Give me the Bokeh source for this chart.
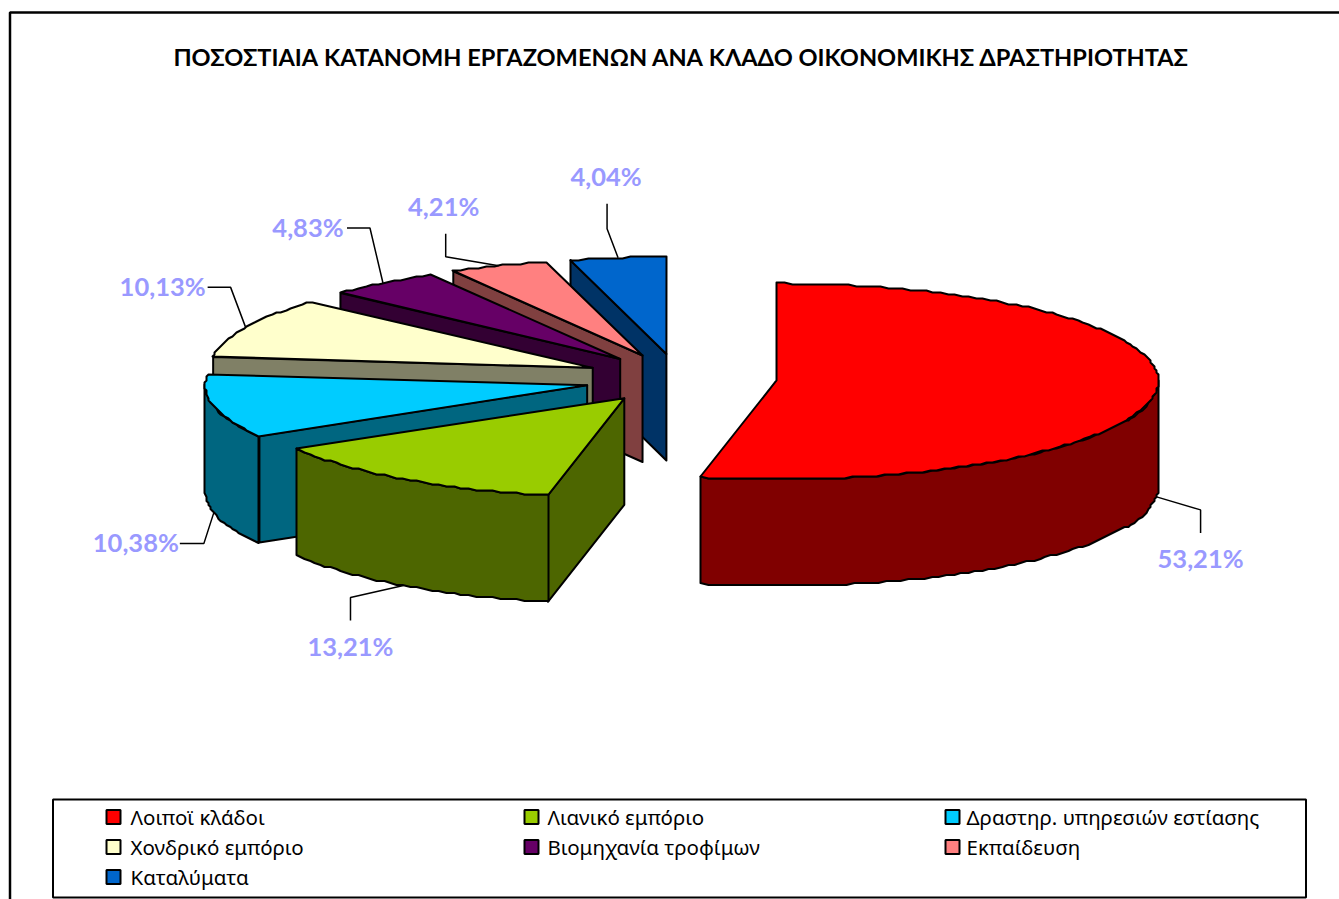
import numpy as np
from bokeh.plotting import figure
from bokeh.models import ColumnDataSource, Range1d
from bokeh.core.properties import value
from bokeh.embed import file_html
from bokeh.resources import INLINE

TITLE = "ΠΟΣΟΣΤΙΑΙΑ ΚΑΤΑΝΟΜΗ ΕΡΓΑΖΟΜΕΝΩΝ ΑΝΑ ΚΛΑΔΟ ΟΙΚΟΝΟΜΙΚΗΣ ΔΡΑΣΤΗΡΙΟΤΗΤΑΣ"
categories = ["Λοιποϊ κλάδοι", "Λιανικό εμπόριο", "Δραστηρ. υπηρεσιών εστίασης",
              "Χονδρικό εμπόριο", "Βιομηχανία τροφίμων", "Εκπαίδευση", "Καταλύματα"]
shares = [53.21, 13.21, 10.38, 10.13, 4.83, 4.21, 4.04]
top_colors = ["#FF0000", "#99CC00", "#00CCFF", "#FFFFCC", "#660066", "#FF8080", "#0066CC"]
side_colors = ["#800000", "#4D6600", "#006680", "#808066", "#330033", "#804040", "#003366"]

# layout (in pixels of the 1339x899 window)
W, H = 1339, 899
CX, CY = 680, 377.5
RX, RY_BACK, RY_FRONT = 382, 97, 99
DEPTH = 106.5
EXPLODE = 0.25
STEP = 2
DRAW_ORDER = [6, 5, 4, 3, 2, 1, 0]
NUDGE = [(1, 0), (-1, 0.5), (0, 2), (-1, 0), (-1, 0), (-2, 0), (-2, 0)]
ELBOWS = [[(44, 13), (44, 36)], [(-53, 12), (-53, 35)], [(-10, 31), (-34, 31)],
          [(-15, -40), (-38, -40)], [(-13, -55), (-36, -55)], [(-53, -9), (-53, -32)],
          [(-11, -29), (-11, -54)]]
LABEL_OFF = [(0, 25.5), (0, 25.5), (-44, -1.5), (-45, -1.5), (-39, -1), (-2, -27.5), (-1, -27.5)]

p = figure(width=W, height=H, output_backend="svg", toolbar_location=None,
           x_range=Range1d(0, W), y_range=Range1d(H, 0),
           min_border=0, outline_line_color=None, background_fill_color="white",
           border_fill_color="white")
p.xaxis.visible = False
p.yaxis.visible = False
p.xgrid.visible = False
p.ygrid.visible = False

# frame
p.line([9.5, 9.5, W], [H, 12, 12], line_color="black", line_width=2.5)

p.text([681], [56], text=[TITLE], text_font=value("Lato"), text_font_style="bold",
       text_font_size="23.6px", text_align="center", text_baseline="middle", text_color="black")

fr = np.array(shares) / sum(shares) * 360
starts = np.concatenate([[0], np.cumsum(fr)[:-1]])
ends = starts + fr


def pt(cx, cy, a):
    r = np.radians(a)
    c = np.cos(r)
    return cx + RX * np.sin(r), cy - np.where(c < 0, RY_FRONT, RY_BACK) * c


def jag(v):
    # the reference outline is stepped, as if drawn on a coarse grid
    return np.round(v / STEP) * STEP


for i in DRAW_ORDER:
    a0, a1 = starts[i], ends[i]
    mid = (a0 + a1) / 2
    cx = CX + EXPLODE * RX * np.sin(np.radians(mid)) + NUDGE[i][0]
    cy = CY - EXPLODE * RY_BACK * np.cos(np.radians(mid)) + NUDGE[i][1]
    if np.sin(np.radians(a0)) < -1e-6:
        ex, ey = pt(cx, cy, a0)
        p.patch([cx, ex, ex, cx], [cy, ey, ey + DEPTH, cy + DEPTH], fill_color=side_colors[i],
                line_color="black", line_width=2, line_join="round")
    w0, w1 = max(a0, 90), min(a1, 270)
    if w1 > w0:
        aa = np.linspace(w0, w1, max(4, int((w1 - w0) / 1.2)))
        xs, ys = pt(cx, cy, aa)
        xs, ys = jag(xs), jag(ys)
        p.patch(np.r_[xs, xs[::-1]], np.r_[ys, ys[::-1] + DEPTH], fill_color=side_colors[i],
                line_color="black", line_width=2, line_join="round")
    aa = np.linspace(a0, a1, max(4, int(fr[i] / 1.2)))
    xs, ys = pt(cx, cy, aa)
    xs, ys = jag(xs), jag(ys)
    p.patch(np.r_[cx, xs], np.r_[cy, ys], fill_color=top_colors[i],
            line_color="black", line_width=2, line_join="round")
    ax, ay = pt(cx, cy, mid)
    if np.cos(np.radians(mid)) < 0:
        ay = ay + DEPTH
    lx = [float(ax)] + [float(ax) + d[0] for d in ELBOWS[i]]
    ly = [float(ay)] + [float(ay) + d[1] for d in ELBOWS[i]]
    p.line(lx, ly, line_color="black", line_width=1.5)
    label = f"{shares[i]:.2f}%".replace(".", ",")
    p.text([lx[-1] + LABEL_OFF[i][0]], [ly[-1] + LABEL_OFF[i][1]], text=[label],
           text_font=value("Lato"), text_font_style="bold", text_font_size="25.5px",
           text_align="center", text_baseline="middle", text_color="#9999FF")

# legend
TEXT_X = [24, 23, 21]
p.quad(left=[52.5], right=[1305.5], top=[799], bottom=[897], fill_color="white",
       line_color="black", line_width=2)
for i, name in enumerate(categories):
    col, row = i % 3, i // 3
    x = [106, 524, 945][col]
    y = [816.5, 846.5, 876.5][row]
    p.quad(left=[x], right=[x + 14], top=[y - 7], bottom=[y + 7], fill_color=top_colors[i],
           line_color="black", line_width=2)
    p.text([x + TEXT_X[col]], [y], text=[name], text_font=value("Noto Sans"), text_font_size="20.5px",
           text_align="left", text_baseline="middle", text_color="black")

open("out.html", "w").write(file_html(p, INLINE))
